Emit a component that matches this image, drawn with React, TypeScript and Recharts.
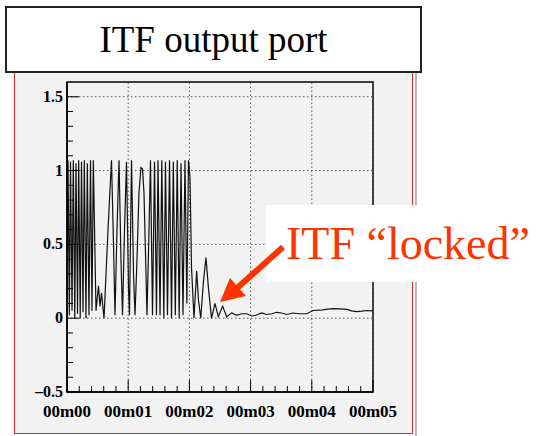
import React from 'react';
import { LineChart, Line, XAxis, YAxis, ReferenceLine, ReferenceArea } from 'recharts';

// time in minutes
const time = [
  0.000, 0.016, 0.038, 0.057, 0.082, 0.103, 0.127, 0.147, 0.172, 0.191,
  0.216, 0.237, 0.261, 0.283, 0.310, 0.332, 0.359, 0.384, 0.408, 0.430,
  0.474, 0.515, 0.539, 0.564, 0.605, 0.670, 0.727, 0.760, 0.784, 0.817,
  0.850, 0.882, 0.907, 0.940, 0.972, 1.005, 1.021, 1.054, 1.087, 1.111,
  1.144, 1.176, 1.209, 1.234, 1.258, 1.291, 1.307, 1.340, 1.364, 1.397,
  1.430, 1.462, 1.487, 1.520, 1.549, 1.582, 1.609, 1.642, 1.675, 1.708,
  1.737, 1.770, 1.801, 1.833, 1.863, 1.895, 1.928, 1.958, 1.985, 2.010,
  2.034, 2.075, 2.119, 2.149, 2.185, 2.230, 2.271, 2.312, 2.361, 2.418,
  2.472, 2.544, 2.609, 2.691, 2.773, 2.855, 2.936, 3.018, 3.088, 3.181,
  3.263, 3.345, 3.426, 3.508, 3.590, 3.693, 3.791, 3.917, 4.020, 4.134,
  4.232, 4.346, 4.461, 4.570, 4.652, 4.734, 4.820, 4.897, 5.000,
];

// ITF output port signal
const signal = [
  0.45, 1.07, 0.02, 1.06, 0.05, 1.07, 0.00, 1.05, 0.03, 1.07,
  0.00, 1.06, 0.04, 1.07, 0.00, 1.05, 0.02, 1.07, 0.05, 1.07,
  0.05, 0.22, 0.08, 0.17, 0.00, 0.60, 1.07, 0.50, 0.02, 0.60,
  1.07, 0.40, 0.02, 0.60, 1.06, 0.20, 0.02, 1.07, 0.30, 0.02,
  0.40, 0.85, 1.02, 1.01, 0.85, 0.30, 0.02, 0.60, 1.07, 0.02,
  1.06, 0.02, 1.07, 0.02, 1.07, 0.00, 1.06, 0.02, 1.07, 0.00,
  1.06, 0.02, 1.07, 0.00, 1.05, 0.02, 1.07, 0.10, 1.07, 0.95,
  0.35, 0.00, 0.32, 0.12, 0.00, 0.25, 0.41, 0.20, 0.00, 0.10,
  0.01, 0.08, 0.01, 0.036, 0.02, 0.03, 0.03, 0.015, 0.02, 0.036,
  0.025, 0.03, 0.04, 0.035, 0.025, 0.035, 0.03, 0.03, 0.052, 0.054,
  0.06, 0.065, 0.063, 0.06, 0.05, 0.045, 0.048, 0.052, 0.05,
];

const xTicks = [0, 0.2, 0.4, 0.6, 0.8, 1, 1.2, 1.4, 1.6, 1.8, 2, 2.2, 2.4, 2.6, 2.8, 3, 3.2, 3.4, 3.6, 3.8, 4, 4.2, 4.4, 4.6, 4.8, 5];
const xMajor = [0, 1, 2, 3, 4, 5];
const xLabels = ['00m00', '00m01', '00m02', '00m03', '00m04', '00m05'];

const yTicks = [-0.5, -0.4, -0.3, -0.2, -0.1, 0, 0.1, 0.2, 0.3, 0.4, 0.5, 0.6, 0.7, 0.8, 0.9, 1, 1.1, 1.2, 1.3, 1.4, 1.5];
const yMajor = [-0.5, 0, 0.5, 1, 1.5];
const yLabels = ['\u20130.5', '0', '0.5', '1', '1.5'];

const data = time.map((t, i) => ({ t, v: signal[i] }));

const FONT = '"Liberation Serif", "Times New Roman", serif';

const near = (a: number, b: number) => Math.abs(a - b) < 1e-6;

const YTick = (props: any) => {
  const { x, y, payload } = props;
  const left = x + 4;
  const idx = yMajor.findIndex((m) => near(m, payload.value));
  const major = idx >= 0;
  return (
    <g>
      <line x1={left} x2={left + (major ? 12 : 6)} y1={y} y2={y} stroke="#000" strokeWidth={1} />
      {major && (
        <text x={x} y={y} dy={5} textAnchor="end" fontFamily={FONT} fontWeight="bold" fontSize={16} fill="#000">
          {yLabels[idx]}
        </text>
      )}
    </g>
  );
};

const XTick = (props: any) => {
  const { x, y, payload } = props;
  const idx = xMajor.findIndex((m) => near(m, payload.value));
  const major = idx >= 0;
  return (
    <g>
      <line x1={x} x2={x} y1={y} y2={y - (major ? 12 : 6)} stroke="#000" strokeWidth={1} />
      {major && (
        <text x={x} y={y + 25} textAnchor="middle" fontFamily={FONT} fontWeight="bold" fontSize={17} fill="#000">
          {xLabels[idx]}
        </text>
      )}
    </g>
  );
};

export default function App() {
  return (
    <div style={{ position: 'absolute', left: 0, top: 0, width: 540, height: 436, background: '#fff', overflow: 'hidden' }}>
      {/* grey panel with red border */}
      <div
        style={{
          position: 'absolute', left: 14, top: 60, width: 399, height: 374, boxSizing: 'border-box',
          background: '#f2f2f2', border: '1.5px solid #e02a2a',
        }}
      />
      <div style={{ position: 'absolute', left: 415, top: 72, width: 2, height: 364, background: '#b8b8b8' }} />

      <div style={{ position: 'absolute', left: 0, top: 0 }}>
        <LineChart width={540} height={436} data={data} margin={{ top: 82, right: 167, bottom: 14, left: 17 }}>
          <XAxis
            dataKey="t"
            type="number"
            domain={[0, 5]}
            ticks={xTicks}
            interval={0}
            allowDataOverflow
            height={30}
            tickSize={0}
            tickMargin={0}
            tickLine={false}
            axisLine={{ stroke: '#000', strokeWidth: 1.5 }}
            tick={<XTick />}
          />
          <YAxis
            type="number"
            domain={[-0.5, 1.6]}
            ticks={yTicks}
            interval={0}
            allowDataOverflow
            width={50}
            tickSize={0}
            tickMargin={4}
            tickLine={false}
            axisLine={{ stroke: '#000', strokeWidth: 1.5 }}
            tick={<YTick />}
          />
          {yMajor.map((v) => (
            <ReferenceLine key={'y' + v} y={v} stroke="#555" strokeDasharray="1.5 2.5" strokeWidth={1} />
          ))}
          {xMajor.map((v) => (
            <ReferenceLine key={'x' + v} x={v} stroke="#555" strokeDasharray="1.5 2.5" strokeWidth={1} />
          ))}
          <ReferenceArea x1={0} x2={5} y1={-0.5} y2={1.6} fill="none" stroke="#000" strokeWidth={1.5} />
          <Line type="linear" dataKey="v" stroke="#111" strokeWidth={1.2} dot={false} isAnimationActive={false} />
        </LineChart>
      </div>

      {/* title box */}
      <div
        style={{
          position: 'absolute', left: 5, top: 6, width: 417, height: 67, boxSizing: 'border-box',
          background: '#fff', border: '2px solid #222', display: 'flex', alignItems: 'center', justifyContent: 'center',
          fontFamily: FONT, fontSize: 37, color: '#000',
        }}
      >
        ITF output port
      </div>

      {/* annotation */}
      <div
        style={{
          position: 'absolute', left: 266, top: 205, width: 274, height: 77, background: '#fff',
          fontFamily: FONT, fontSize: 46, lineHeight: '77px', color: '#ff3300', paddingLeft: 20, boxSizing: 'border-box',
          whiteSpace: 'nowrap',
        }}
      >
        ITF {'\u201Clocked\u201D'}
      </div>
      <svg style={{ position: 'absolute', left: 0, top: 0 }} width={540} height={436}>
        <line x1={283} y1={247} x2={236} y2={289} stroke="#ff3300" strokeWidth={6} />
        <polygon points="220,302 230,278 246,296" fill="#ff3300" />
      </svg>
    </div>
  );
}
